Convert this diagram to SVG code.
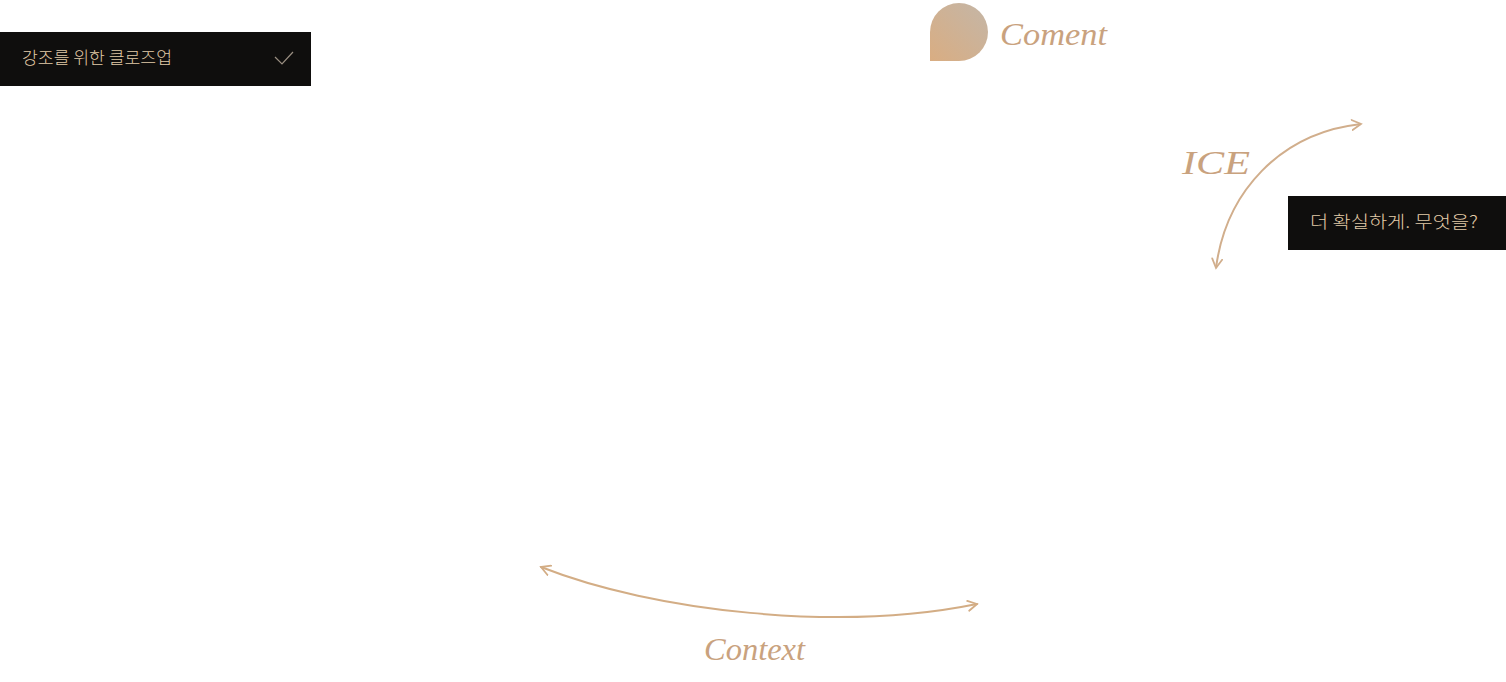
<svg xmlns="http://www.w3.org/2000/svg" width="1506" height="682" viewBox="0 0 1506 682">
<style>
.bar{fill:#0f0e0d}
.kt{font-family:"Noto Sans CJK KR","Noto Sans",sans-serif;fill:#e2cba8;font-weight:300}
.st{font-family:"Liberation Serif",serif;font-style:italic;fill:#c9a27e}
.arc{fill:none;stroke:#d3ad85;stroke-width:2;stroke-linecap:round}
</style>
<defs>
<linearGradient id="bg" x1="0" y1="1" x2="1" y2="0">
<stop offset="0" stop-color="#d9ad82"/>
<stop offset="1" stop-color="#c4b6a7"/>
</linearGradient>
<marker id="ah" viewBox="0 0 12 12" refX="10" refY="6" markerWidth="12" markerHeight="12" markerUnits="userSpaceOnUse" orient="auto-start-reverse">
<path d="M1,1 L10,6 L1,11" fill="none" stroke="context-stroke" stroke-width="1.8" stroke-linecap="round"/>
</marker>
</defs>
<g id="closeup">
<rect class="bar" x="0" y="32" width="311" height="54"/>
<text class="kt" x="22" y="64" font-size="17" textLength="150" lengthAdjust="spacingAndGlyphs">강조를 위한 클로즈업</text>
<path d="M275,57 L282,64 L293,52" fill="none" stroke="#9a8f82" stroke-width="1.2"/>
</g>
<g id="coment">
<path d="M930,61 V32 A29,29 0 1 1 959,61 Z" fill="url(#bg)"/>
<text class="st" x="1000" y="45" font-size="31" textLength="107" lengthAdjust="spacingAndGlyphs">Coment</text>
</g>
<g id="ice">
<text class="st" x="1182" y="174" font-size="33" textLength="68" lengthAdjust="spacingAndGlyphs">ICE</text>
</g>
<g id="sure">
<rect class="bar" x="1288" y="196" width="218" height="54"/>
<text class="kt" x="1310" y="228" font-size="17" textLength="168" lengthAdjust="spacingAndGlyphs">더 확실하게. 무엇을?</text>
</g>
<g id="context">
<text class="st" x="704" y="660" font-size="31" textLength="101" lengthAdjust="spacingAndGlyphs">Context</text>
</g>
<g id="connectors">
<path d="M1216,268 C1226,192 1280,133 1361,124" stroke="#d1ae8c" fill="none" stroke-width="2" marker-start="url(#ah)" marker-end="url(#ah)"/>
<path class="arc" d="M541,567 C655,612 840,632 977,604" stroke="#d3ad85" marker-start="url(#ah)" marker-end="url(#ah)"/>
</g>
</svg>
